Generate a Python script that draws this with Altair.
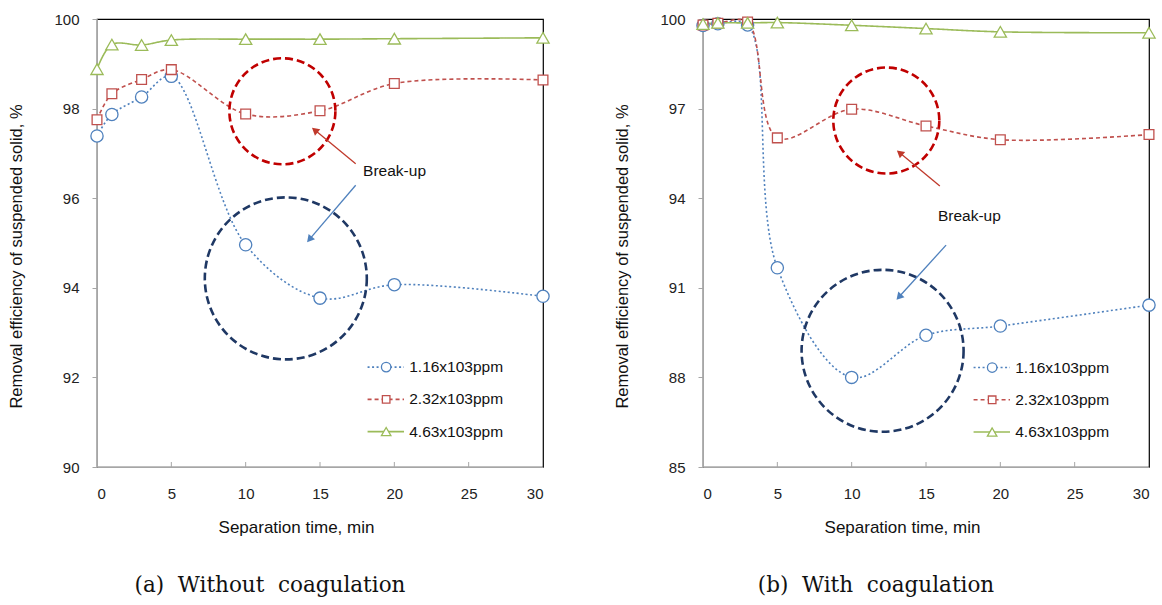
import math
import altair as alt
import pandas as pd

# ---------------- data ----------------
times = [0, 1, 3, 5, 10, 15, 20, 30]
series_names = ["1.16x103ppm", "2.32x103ppm", "4.63x103ppm"]

# (a) without coagulation
a_116 = [97.39, 97.87, 98.26, 98.72, 94.96, 93.77, 94.07, 93.81]
a_232 = [97.75, 98.33, 98.65, 98.87, 97.88, 97.95, 98.56, 98.64]
a_463 = [98.88, 99.43, 99.42, 99.53, 99.55, 99.55, 99.56, 99.58]

# (b) with coagulation
b_116 = [99.78, 99.84, 99.80, 91.67, 88.0, 89.41, 89.72, 90.42]
b_232 = [99.80, 99.86, 99.90, 96.02, 96.98, 96.42, 95.96, 96.13]
b_463 = [99.83, 99.87, 99.87, 99.88, 99.79, 99.68, 99.57, 99.54]

a_yticks = [90, 92, 94, 96, 98, 100]
b_yticks = [85, 88, 91, 94, 97, 100]
x_ticks = [0, 5, 10, 15, 20, 25, 30]
inner_ticks = [5, 10, 15, 20, 25]

# annotation anchors (data units)
a_circles = {"x": [12.47, 12.7], "y": [97.94, 94.21]}
b_circles = {"x": [12.33, 12.08], "y": [96.6, 88.89]}
a_label = {"x": 17.9, "y": 96.6}
b_label = {"x": 15.8, "y": 93.41}
a_arrows = {"x": [17.4, 17.4], "y": [96.77, 96.29], "x2": [14.65, 14.29], "y2": [97.52, 95.08]}
b_arrows = {"x": [15.93, 16.35], "y": [94.41, 92.43], "x2": [13.23, 13.18], "y2": [95.52, 90.69]}
a_legend_y = [92.23, 91.51, 90.79]
b_legend_y = [88.33, 87.25, 86.17]
legend_x = {"x1": 18.2, "x2": 20.65, "xm": 19.45, "xt": 21.0}

# ---------------- styles ----------------
W, H = 446, 448
COLORS = ["#4F81BD", "#C0504D", "#9BBB59"]
DASHES = [[2, 2.5], [4, 3], [1, 0]]
SHAPES = ["circle", "square", "triangle-up"]
SIZES = [150, 95, 150]
CIRCLE_COLORS = ["#C00000", "#1F3864"]
CIRCLE_SIZES = [106 ** 2, 162 ** 2]
ARROW_COLORS = ["#C0392B", "#4F81BD"]
FONT = "Liberation Sans"
SP = " \u00a0"


def panel(vals, yticks, circles, label, arrows, legend_y, caption):
    ymin, ymax = yticks[0], yticks[-1]
    xs = alt.Scale(domain=[0, 30], nice=False, zero=False)
    ys = alt.Scale(domain=[ymin, ymax], nice=False, zero=False)
    xenc = alt.X("t:Q", scale=xs,
                 axis=alt.Axis(values=x_ticks, title="Separation time, min", tickSize=0,
                               labelPadding=19, titleX=W / 2 - 24, titleY=52,
                               titleFontSize=17, domainColor="#A6A6A6", grid=False))
    yenc = alt.Y("v:Q", scale=ys,
                 axis=alt.Axis(values=yticks, title="Removal efficiency of suspended solid, %",
                               tickSize=5, tickColor="#A6A6A6", labelPadding=13,
                               titleX=-73, titleY=H / 2 + 13, titleFontSize=16.5,
                               domainColor="#A6A6A6", grid=False))
    layers = []
    for i, name in enumerate(series_names):
        df = pd.DataFrame({"t": times, "v": vals[i]})
        layers.append(alt.Chart(df).mark_line(
            color=COLORS[i], strokeDash=DASHES[i], strokeWidth=1.6,
            interpolate="catmull-rom").encode(x=xenc, y=yenc))
    for i, name in enumerate(series_names):
        df = pd.DataFrame({"t": times, "v": vals[i]})
        layers.append(alt.Chart(df).mark_point(
            shape=SHAPES[i], size=SIZES[i], filled=True, fill="white", stroke=COLORS[i],
            strokeWidth=1.3, opacity=1).encode(x="t:Q", y="v:Q"))
    # dashed circles
    for j in range(2):
        df = pd.DataFrame({"t": [circles["x"][j]], "v": [circles["y"][j]]})
        layers.append(alt.Chart(df).mark_point(
            shape="circle", size=CIRCLE_SIZES[j], filled=False, stroke=CIRCLE_COLORS[j],
            strokeWidth=2.6, strokeDash=[8, 4], opacity=1).encode(x="t:Q", y="v:Q"))
    # arrows
    pxx = W / 30.0
    pxy = H / float(ymax - ymin)
    for j in range(2):
        x1, y1, x2, y2 = arrows["x"][j], arrows["y"][j], arrows["x2"][j], arrows["y2"][j]
        df = pd.DataFrame({"t": [x1], "v": [y1], "t2": [x2], "v2": [y2]})
        layers.append(alt.Chart(df).mark_rule(color=ARROW_COLORS[j], strokeWidth=1.3).encode(
            x="t:Q", y="v:Q", x2="t2:Q", y2="v2:Q"))
        dx = (x2 - x1) * pxx
        dy = -(y2 - y1) * pxy
        ang = math.degrees(math.atan2(dx, -dy)) % 360
        dfh = pd.DataFrame({"t": [x2], "v": [y2]})
        layers.append(alt.Chart(dfh).mark_point(
            shape="triangle-up", size=70, filled=True, color=ARROW_COLORS[j], angle=ang,
            opacity=1).encode(x="t:Q", y="v:Q"))
    # label
    dft = pd.DataFrame({"t": [label["x"]], "v": [label["y"]], "s": ["Break-up"]})
    layers.append(alt.Chart(dft).mark_text(
        align="left", baseline="middle", font=FONT, fontSize=15.5, color="#111").encode(
        x="t:Q", y="v:Q", text="s:N"))
    # legend
    for i, name in enumerate(series_names):
        dfl = pd.DataFrame({"t": [legend_x["x1"]], "t2": [legend_x["x2"]], "v": [legend_y[i]]})
        layers.append(alt.Chart(dfl).mark_rule(
            color=COLORS[i], strokeDash=DASHES[i], strokeWidth=1.6).encode(
            x="t:Q", x2="t2:Q", y="v:Q"))
        dfm = pd.DataFrame({"t": [legend_x["xm"]], "v": [legend_y[i]]})
        layers.append(alt.Chart(dfm).mark_point(
            shape=SHAPES[i], size=SIZES[i] * 0.6, filled=True, fill="white", stroke=COLORS[i],
            strokeWidth=1.3, opacity=1).encode(x="t:Q", y="v:Q"))
        dftx = pd.DataFrame({"t": [legend_x["xt"]], "v": [legend_y[i]], "s": [name]})
        layers.append(alt.Chart(dftx).mark_text(
            align="left", baseline="middle", font=FONT, fontSize=15.5, color="#111").encode(
            x="t:Q", y="v:Q", text="s:N"))
    # inward x ticks
    dfk = pd.DataFrame({"t": inner_ticks})
    layers.append(alt.Chart(dfk).mark_rule(color="#A6A6A6", strokeWidth=1).encode(
        x="t:Q", y=alt.value(H), y2=alt.value(H - 5)))
    return alt.layer(*layers).properties(
        width=W, height=H,
        title=alt.TitleParams(text=caption, orient="bottom", font="DejaVu Serif",
                              fontSize=21.5, fontWeight="normal", color="#111", offset=40,
                              dx=-50))


left = panel([a_116, a_232, a_463], a_yticks, a_circles, a_label, a_arrows, a_legend_y,
             "(a)" + SP + "Without" + SP + "coagulation")
right = panel([b_116, b_232, b_463], b_yticks, b_circles, b_label, b_arrows, b_legend_y,
              "(b)" + SP + "With" + SP + "coagulation")

chart = alt.hconcat(left, right, spacing=60).properties(
    padding={"left": 7, "top": 11, "right": 2, "bottom": 2},
    background="white",
).configure_view(stroke="#000000", strokeWidth=1.2).configure_axis(
    labelFont=FONT, labelFontSize=15, labelColor="#222", titleFont=FONT,
    titleFontWeight="normal", titleColor="#111")

chart.save("out.html", embed_options={"renderer": "svg", "actions": False})
